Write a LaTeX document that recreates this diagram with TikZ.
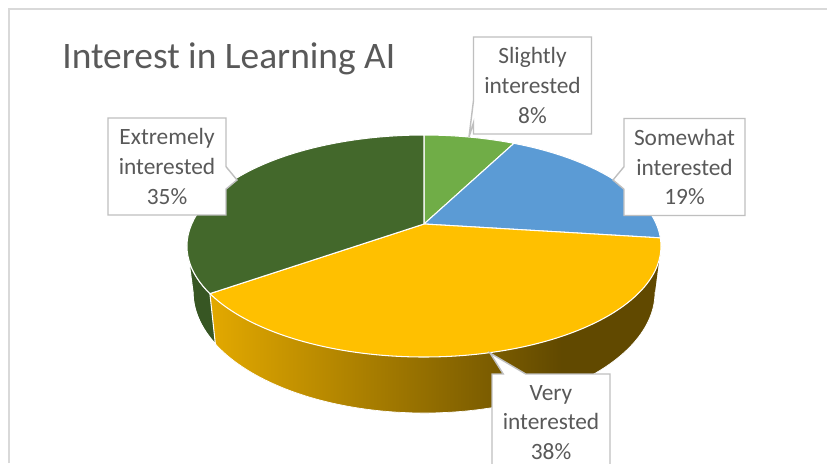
\documentclass[tikz,border=0pt]{standalone}
\usepackage{fontspec}
\setmainfont{Carlito}
\usepackage{tikz}
\usetikzlibrary{calc,shapes.callouts}

\definecolor{txtgray}{HTML}{595959}
\definecolor{boxgray}{HTML}{BFBFBF}
\definecolor{framegray}{HTML}{D9D9D9}
\definecolor{slightgreen}{HTML}{70AD47}
\definecolor{somewhatblue}{HTML}{5B9BD5}
\definecolor{verygold}{HTML}{FFC000}
\definecolor{extremegreen}{HTML}{43682B}
\definecolor{extremeside}{HTML}{375623}
\definecolor{sideleft}{HTML}{E3A900}
\definecolor{sideright}{HTML}{614900}
\pgfdeclarehorizontalshading{goldside}{100bp}{color(0bp)=(sideleft); color(25bp)=(sideleft); color(64bp)=(sideright); color(100bp)=(sideright)}

\begin{document}
\begin{tikzpicture}[x=0.02cm, y=-0.02cm,
slice/.style={draw=white, line width=0.6pt, line join=round},
calloutbox/.style={rectangle callout, draw=boxgray, fill=white, line width=0.8pt, text=txtgray,
  font=\fontsize{13.3}{17}\selectfont, align=center, minimum width=2.36cm, minimum height=1.94cm,
  inner xsep=5.7pt, callout pointer width=0.45cm},
titlenode/.style={anchor=base west, inner sep=0pt, text=txtgray, font=\fontsize{21.3}{25}\selectfont},
]
\useasboundingbox (0,0) rectangle (827,463);
\clip (0,0) rectangle (827,463);
\fill[white] (0,0) rectangle (827,463);

%Pie centres
\coordinate (T) at (424,246);
\coordinate (B) at (424,292);
\coordinate (ctr) at (424,224);

%Sides
\shade[shading=goldside]
  ($(T)+(0:237 and 111)$) arc[start angle=0, end angle=154.6, x radius=237, y radius=111]
  -- ($(B)+(154.6:231 and 121)$) arc[start angle=154.6, end angle=0, x radius=231, y radius=121] -- cycle;
\filldraw[slice, fill=extremeside]
  ($(T)+(154.6:237 and 111)$) arc[start angle=154.6, end angle=180, x radius=237, y radius=111]
  -- ($(B)+(180:231 and 121)$) arc[start angle=180, end angle=154.6, x radius=231, y radius=121] -- cycle;
\draw[white, line width=0.4pt] ($(B)+(0:231 and 121)$) arc[start angle=0, end angle=180, x radius=231, y radius=121];

%Top
\filldraw[slice, fill=slightgreen] (ctr) -- ($(T)+(-90:237 and 111)$)
  arc[start angle=-90, end angle=-67.7, x radius=237, y radius=111] -- cycle;
\filldraw[slice, fill=somewhatblue] (ctr) -- ($(T)+(-67.7:237 and 111)$)
  arc[start angle=-67.7, end angle=-4.2, x radius=237, y radius=111] -- cycle;
\filldraw[slice, fill=verygold] (ctr) -- ($(T)+(-4.2:237 and 111)$)
  arc[start angle=-4.2, end angle=154.6, x radius=237, y radius=111] -- cycle;
\filldraw[slice, fill=extremegreen] (ctr) -- ($(T)+(154.6:237 and 111)$)
  arc[start angle=154.6, end angle=270, x radius=237, y radius=111] -- cycle;

%Callouts
\coordinate (slight-tip) at (469,137);
\coordinate (somewhat-tip) at (613,180);
\coordinate (extreme-tip) at (237,180);
\coordinate (very-tip) at (490,353);
\node[calloutbox, callout absolute pointer={(slight-tip)}]   (slight)   at (532.5,85.5) {Slightly\\interested\\8\%};
\node[calloutbox, callout absolute pointer={(somewhat-tip)}] (somewhat) at (684.5,167)  {Somewhat\\interested\\19\%};
\node[calloutbox, callout absolute pointer={(extreme-tip)}]  (extreme)  at (167,166.5)  {Extremely\\interested\\35\%};
\node[calloutbox, callout absolute pointer={(very-tip)}]     (very)     at (551,422.5)  {Very\\interested\\38\%};

%Title and frame
\node[titlenode] (title) at (62,68) {Interest in Learning AI};
\draw[framegray, line width=0.8pt] (9,463) -- (9,9) -- (827,9);
\end{tikzpicture}
\end{document}
